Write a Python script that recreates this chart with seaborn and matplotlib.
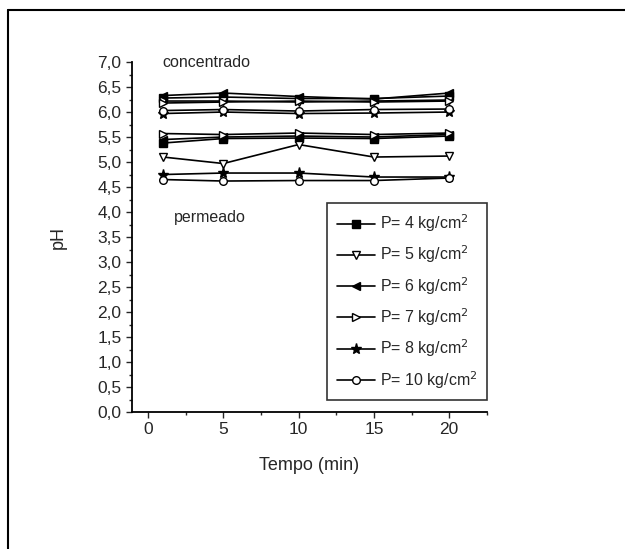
import matplotlib.pyplot as plt
import pandas as pd
import seaborn as sns
from matplotlib.lines import Line2D
from matplotlib.ticker import MultipleLocator, FuncFormatter

# Sampling times (min)
tempo = [1, 5, 10, 15, 20]

# Pressures (kg/cm2)
pressoes = ['4', '5', '6', '7', '8', '10']

# pH of the concentrate (upper group)
conc_4 = [6.28, 6.30, 6.27, 6.27, 6.32]
conc_5 = [6.22, 6.22, 6.20, 6.22, 6.24]
conc_6 = [6.33, 6.38, 6.31, 6.26, 6.38]
conc_7 = [6.18, 6.20, 6.22, 6.20, 6.22]
conc_8 = [5.97, 6.00, 5.97, 5.98, 6.00]
conc_10 = [6.03, 6.05, 6.02, 6.05, 6.06]

# pH of the permeate (lower group)
perm_4 = [5.38, 5.47, 5.48, 5.47, 5.52]
perm_5 = [5.10, 4.97, 5.35, 5.10, 5.12]
perm_6 = [5.45, 5.50, 5.52, 5.50, 5.55]
perm_7 = [5.57, 5.55, 5.58, 5.55, 5.58]
perm_8 = [4.75, 4.78, 4.78, 4.70, 4.70]
perm_10 = [4.65, 4.62, 4.63, 4.63, 4.68]

conc = [conc_4, conc_5, conc_6, conc_7, conc_8, conc_10]
perm = [perm_4, perm_5, perm_6, perm_7, perm_8, perm_10]

markers = ['s', 'v', '<', '>', '*', 'o']
filled = [True, False, True, False, True, False]

sns.set_style("ticks")
plt.rcParams['font.family'] = ['Liberation Sans', 'DejaVu Sans']
plt.rcParams['font.size'] = 12

fig = plt.figure(figsize=(6.25, 5.49), dpi=100)
ax = fig.add_axes([0.211, 0.2495, 0.568, 0.6375])

handles = []
for i, p in enumerate(pressoes):
    fc = 'black' if filled[i] else 'white'
    ms = 8 if markers[i] == '*' else 5.5
    for vals in (conc[i], perm[i]):
        df = pd.DataFrame({'tempo': tempo, 'pH': vals})
        sns.lineplot(data=df, x='tempo', y='pH', ax=ax, color='black',
                     linewidth=1.2, marker=markers[i], markersize=ms,
                     markerfacecolor=fc, markeredgecolor='black',
                     markeredgewidth=1)
    handles.append(Line2D([], [], color='black', linewidth=1.2,
                          marker=markers[i], markersize=ms,
                          markerfacecolor=fc, markeredgecolor='black',
                          label=f'P= {p} kg/cm$^2$'))

ax.set_xlim(-1.07, 22.5)
ax.set_ylim(0, 7)
ax.xaxis.set_major_locator(MultipleLocator(5))
ax.xaxis.set_minor_locator(MultipleLocator(2.5))
ax.yaxis.set_major_locator(MultipleLocator(0.5))
ax.yaxis.set_minor_locator(MultipleLocator(0.25))
ax.yaxis.set_major_formatter(FuncFormatter(lambda v, _: f'{v:.1f}'.replace('.', ',')))
ax.tick_params(which='major', direction='out', length=4, width=1, labelsize=12.5)
ax.tick_params(which='minor', direction='out', length=2, width=1)

sns.despine(ax=ax)
for s in ('left', 'bottom'):
    ax.spines[s].set_linewidth(1.3)
    ax.spines[s].set_color('black')

ax.set_xlabel('Tempo (min)', fontsize=13, labelpad=14)
ax.set_ylabel('pH', fontsize=13, labelpad=22)

ax.text(0.95, 7.0, 'concentrado', fontsize=11.5, va='center', ha='left')
ax.text(1.75, 3.9, 'permeado', fontsize=11.5, va='center', ha='left')

leg = ax.legend(handles=handles, loc='lower right',
                bbox_to_anchor=(1.0, 0.034), borderaxespad=0,
                fontsize=11.5, frameon=True, fancybox=False,
                edgecolor='black', handlelength=2.4, handletextpad=0.3,
                labelspacing=0.6, borderpad=0.6)
leg.get_frame().set_linewidth(1.2)

# Outer frame of the scanned page (left and top edges only)
fig.add_artist(Line2D([0.012, 0.012], [0.0, 0.982], color='black', linewidth=1.5))
fig.add_artist(Line2D([0.012, 1.0], [0.982, 0.982], color='black', linewidth=1.5))

fig.savefig('out.png', dpi=100)
plt.close(fig)
